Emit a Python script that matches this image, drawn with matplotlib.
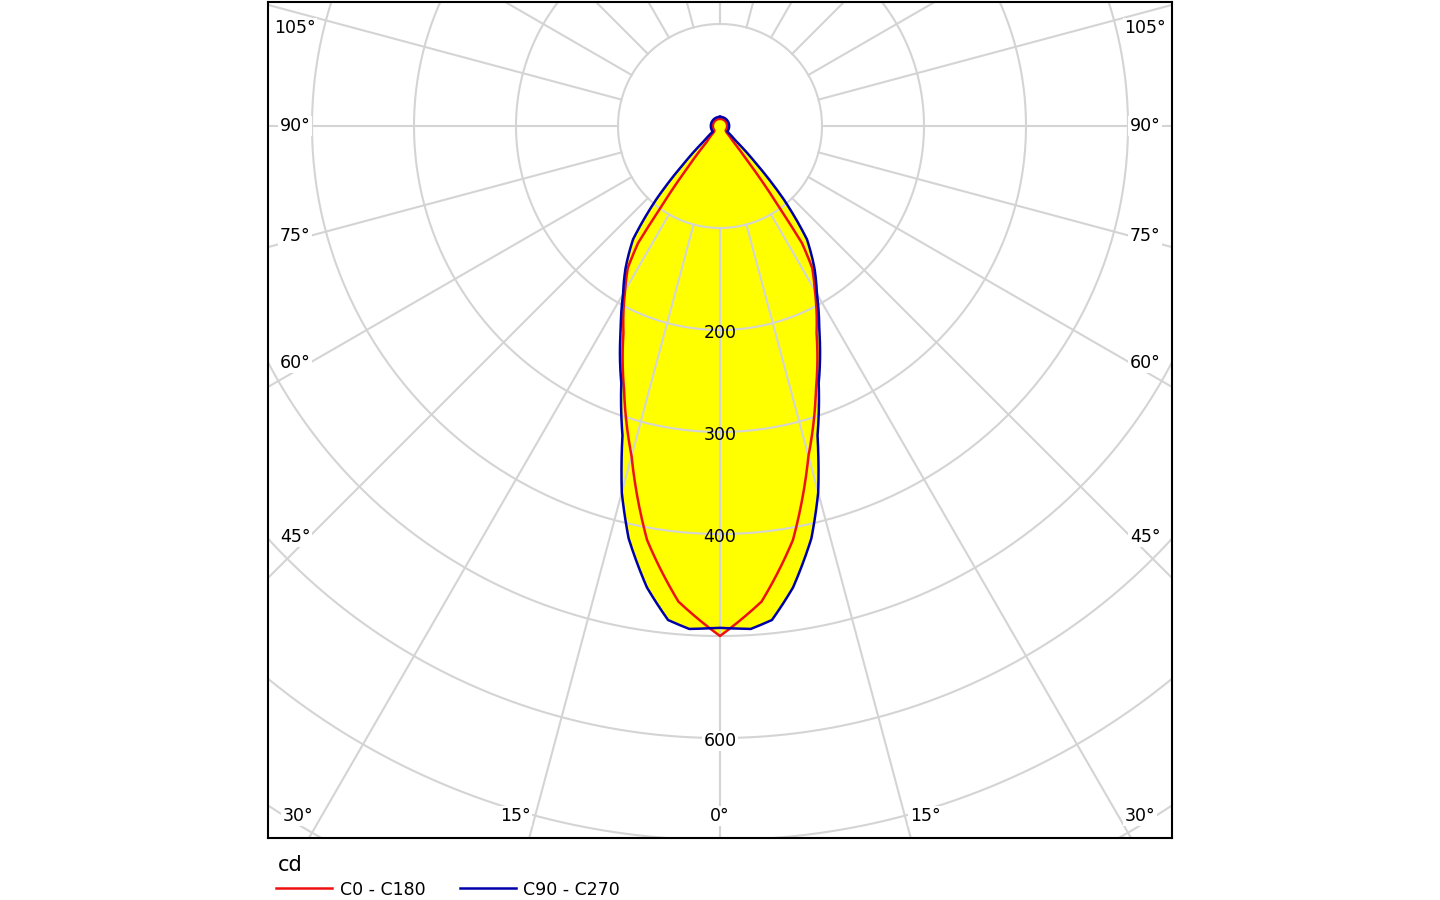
import numpy as np
import matplotlib
matplotlib.use("Agg")
import matplotlib.pyplot as plt

# C0-C180 intensity (cd) vs gamma (deg)
red_g = [0, 5, 10, 15, 20, 25, 30, 33, 35, 36, 38, 40, 45, 50, 180]
red_i = [500, 468, 412, 335, 275, 224, 186, 166, 140, 100, 50, 20, 9, 7, 7]
# C90-C270
blue_g = [0, 2, 3.5, 6, 9, 12.5, 15, 17.5, 21, 26, 30, 33.5, 37.5, 41, 44, 47, 52, 180]
blue_i = [492, 493, 494, 487, 458, 414, 372, 318, 270, 222, 190, 168, 140, 95, 50, 20, 9, 9]

ring_vals = [100, 200, 300, 400, 500, 600, 700, 800, 900, 1000]
ring_labels = [200, 300, 400, 600]
angle_lines = list(range(0, 181, 15))

FS = 12.5
fig = plt.figure(figsize=(14.4, 9), dpi=100)
ax = fig.add_axes([268/1440, 62/900, 904/1440, 836/900])
s = 1.02
ax.set_xlim(-452/s, 452/s)
ax.set_ylim(-712/s, 124/s)
ax.set_aspect('auto')
ax.set_xticks([]); ax.set_yticks([])
for sp in ax.spines.values():
    sp.set_linewidth(1.5); sp.set_color('black')

def curve(g, i):
    gg = np.linspace(0, 180, 721)
    ii = np.interp(gg, g, i)
    rad = np.radians(gg)
    x = ii*np.sin(rad); y = -ii*np.cos(rad)
    X = np.concatenate([-x[::-1], x]); Y = np.concatenate([y[::-1], y])
    return X, Y

rx, ry = curve(red_g, red_i)
bx, by = curve(blue_g, blue_i)
ax.fill(bx, by, color='#ffff00', zorder=1, lw=0)
ax.fill(rx, ry, color='#ffff00', zorder=1, lw=0)

t = np.linspace(0, 2*np.pi, 400)
for r in ring_vals:
    ax.plot(r*np.cos(t), r*np.sin(t), color='#d4d4d4', lw=1.5, zorder=2)
for a in angle_lines:
    rad = np.radians(a)
    for sgn in (1, -1):
        ax.plot([sgn*100*np.sin(rad), sgn*1200*np.sin(rad)],
                [-100*np.cos(rad), -1200*np.cos(rad)], color='#d4d4d4', lw=1.5, zorder=2)

ax.plot(bx, by, color='#0000aa', lw=1.8, zorder=5)
ax.plot(rx, ry, color='#ee1111', lw=1.8, zorder=4)

for v in ring_labels:
    bg = dict(facecolor='white', edgecolor='none', pad=1) if v > 500 else None
    ax.text(0, -v - 3, str(v), ha='center', va='center', fontsize=FS, zorder=6, bbox=bg)

ang_labels = ['105°', '90°', '75°', '60°', '45°']
ang_y = [28, 126, 236, 363, 537]
for lab, yy in zip(ang_labels, ang_y):
    yf = (838 - yy) / 836
    for xf in (27/904, 1 - 27/904):
        ax.text(xf, yf, lab, transform=ax.transAxes, ha='center', va='center', fontsize=FS,
                zorder=6, bbox=dict(facecolor='white', edgecolor='none', pad=1))
bot_labels = ['30°', '15°', '0°', '15°', '30°']
bot_x = [298, 515, 720, 925, 1140]
for lab, xx in zip(bot_labels, bot_x):
    ax.text((xx-268)/904, (838-816)/836, lab, transform=ax.transAxes, ha='center', va='center',
            fontsize=FS, zorder=6, bbox=dict(facecolor='white', edgecolor='none', pad=1))

fig.text(278/1440, 1-865/900, 'cd', fontsize=15, va='center', ha='left')
fig.add_artist(plt.Line2D([276/1440, 332/1440], [1-888/900]*2, color='#ee1111', lw=1.8))
fig.text(340/1440, 1-890/900, 'C0 - C180', fontsize=FS, va='center', ha='left')
fig.add_artist(plt.Line2D([460/1440, 516/1440], [1-888/900]*2, color='#0000aa', lw=1.8))
fig.text(523/1440, 1-890/900, 'C90 - C270', fontsize=FS, va='center', ha='left')

fig.savefig('out.png', dpi=100)
